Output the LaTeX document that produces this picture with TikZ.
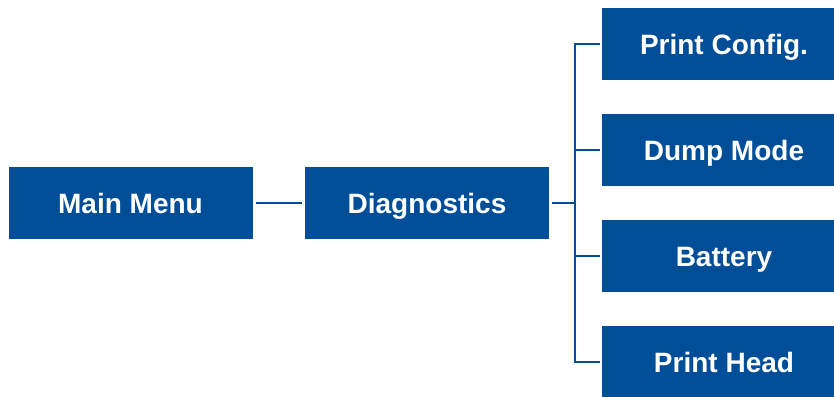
\documentclass[tikz,border=0pt]{standalone}
\usepackage{fontspec}
\setmainfont{Liberation Sans}
\definecolor{menublue}{RGB}{0,77,152}
\begin{document}
\begin{tikzpicture}[x=1pt,y=-1pt,
  menubox/.style={fill=menublue, text=white, minimum width=244pt, minimum height=72pt,
    inner sep=0pt, text height=20pt, text depth=0pt,
    font=\fontsize{28}{30}\selectfont\bfseries},
  link/.style={draw=menublue, line width=2.6pt}]
\clip (0,0) rectangle (834,396);
\fill[white] (0,0) rectangle (834,396);
\node[menubox] (mm) at (130.5,203) {Main Menu};
\node[menubox] (dg) at (427,203) {Diagnostics};
\node[menubox] (pc) at (724,44) {Print Config.};
\node[menubox] (dm) at (724,150) {Dump Mode};
\node[menubox] (bt) at (724,256) {Battery};
\node[menubox] (ph) at (724,362) {Print Head};
\coordinate (bus) at (575,203);
\draw[link, shorten <=3pt, shorten >=3pt] (mm.east) -- (dg.west);
\draw[link, shorten <=3pt] (dg.east) -- (bus);
\draw[link, line cap=rect] (bus |- pc.west) -- (bus |- ph.west);
\foreach \b in {pc,dm,bt,ph}{
  \draw[link, shorten >=2pt] (bus |- \b.west) -- (\b.west);
}
\end{tikzpicture}
\end{document}
